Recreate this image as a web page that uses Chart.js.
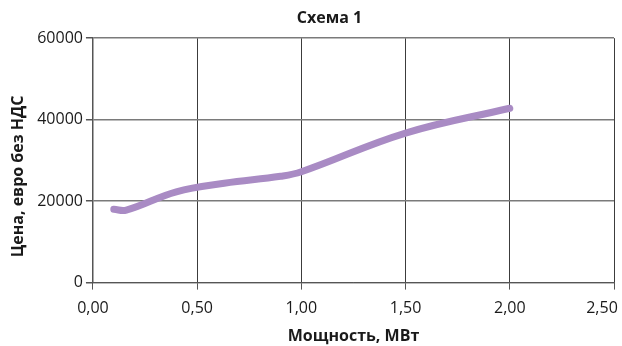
<!DOCTYPE html>
<html lang="ru">
<head>
    <meta charset="UTF-8">
    <title>Схема 1</title>
    <script src="https://cdn.jsdelivr.net/npm/chart.js"></script>
    <style>
        html, body { margin: 0; padding: 0; background: #fff; overflow: hidden; }
        #wrap { width: 622px; height: 346px; }
    </style>
</head>
<body>
    <div id="wrap"><canvas id="chart"></canvas></div>

    <script>
    // data
    const powerMW = [0.1, 0.16, 0.4, 0.63, 0.9, 1.0, 1.5, 2.0];
    const priceEur = [18000, 17800, 22300, 24400, 26100, 27200, 36700, 42800];
    const xTicks = [0, 0.5, 1.0, 1.5, 2.0, 2.5];
    const yTicks = [0, 20000, 40000, 60000];

    const points = powerMW.map((x, i) => ({ x: x, y: priceEur[i] }));

    const textColor = '#1a1a1a';
    const fontFamily = '"Open Sans", "DejaVu Sans", sans-serif';
    const sp = '\u2002'; // en space, used to nudge text like the original layout

    new Chart(document.getElementById('chart'), {
        type: 'line',
        data: {
            datasets: [{
                data: points,
                borderColor: '#a98bc4',
                borderWidth: 7,
                borderCapStyle: 'round',
                borderJoinStyle: 'round',
                tension: 0.4,
                pointRadius: 0,
                fill: false
            }]
        },
        options: {
            responsive: true,
            maintainAspectRatio: false,
            animation: false,
            layout: { padding: { left: 5, right: 0, top: 0, bottom: 0 } },
            plugins: {
                legend: { display: false },
                tooltip: { enabled: false },
                title: {
                    display: true,
                    text: sp.repeat(4) + 'Схема 1',
                    color: textColor,
                    font: { family: fontFamily, size: 16, weight: 'bold' },
                    padding: { top: 9, bottom: 10 }
                }
            },
            scales: {
                x: {
                    type: 'linear',
                    min: 0,
                    max: 2.5,
                    afterBuildTicks: (axis) => { axis.ticks = xTicks.map(v => ({ value: v })); },
                    afterFit: (axis) => { axis.paddingRight = 8; },
                    ticks: {
                        color: textColor,
                        font: { family: fontFamily, size: 16 },
                        padding: 9,
                        // last label sits pulled in from the edge, as in the original
                        callback: (v) => v.toFixed(2).replace('.', ',') + (v === 2.5 ? sp.repeat(3) : '')
                    },
                    grid: { color: '#3c3c3c', tickColor: '#555', tickLength: 7 },
                    border: { color: '#555', width: 1 },
                    title: {
                        display: true,
                        text: 'Мощность, МВт',
                        color: textColor,
                        font: { family: fontFamily, size: 16, weight: 'bold' },
                        padding: { top: 0, bottom: 0 }
                    }
                },
                y: {
                    min: 0,
                    max: 60000,
                    afterBuildTicks: (axis) => { axis.ticks = yTicks.map(v => ({ value: v })); },
                    ticks: {
                        color: textColor,
                        font: { family: fontFamily, size: 16 },
                        padding: 3,
                        callback: (v) => String(v)
                    },
                    grid: { color: '#7a7a7a', lineWidth: 1.5, tickColor: '#555', tickLength: 7 },
                    border: { color: '#555', width: 1.5 },
                    title: {
                        display: true,
                        text: 'Цена, евро без НДС' + sp.repeat(4),
                        color: textColor,
                        font: { family: fontFamily, size: 16, weight: 'bold' },
                        padding: { top: 4, bottom: 6 }
                    }
                }
            }
        }
    });
    </script>
</body>
</html>
